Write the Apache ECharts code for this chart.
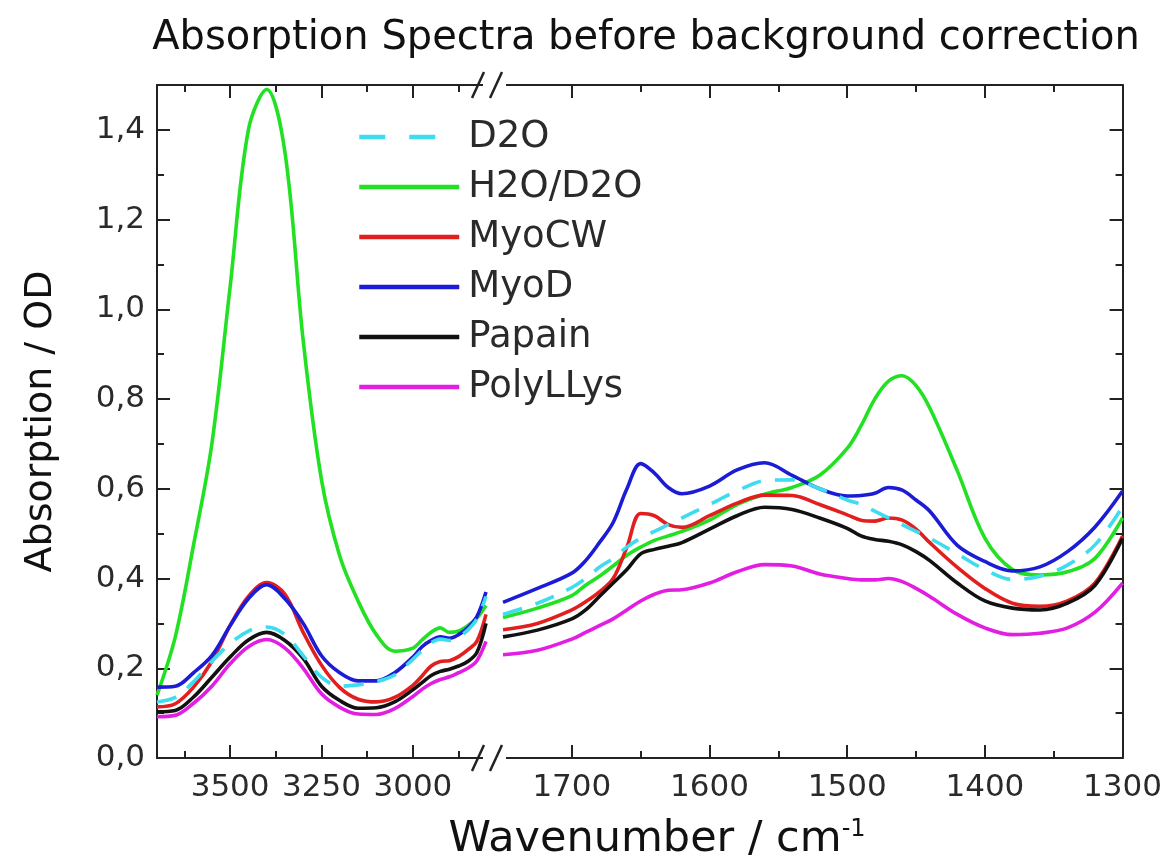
<!DOCTYPE html>
<html><head><meta charset="utf-8">
<script src="https://cdn.jsdelivr.net/npm/echarts@6/dist/echarts.min.js"></script>
<style>html,body{margin:0;padding:0;background:#fff}#c{width:1165px;height:865px}</style>
</head><body><div id="c"></div>
<script>
// Wavenumber grids (cm^-1)
const wnLeft = [3700,3650,3600,3550,3500,3450,3400,3350,3300,3250,3200,3150,3100,3050,3000,2975,2950,2925,2900,2875,2850,2825,2800];
const wnRight = [1750,1725,1700,1690,1680,1670,1660,1650,1640,1630,1620,1600,1580,1560,1540,1520,1500,1490,1480,1470,1460,1450,1440,1420,1400,1380,1360,1340,1320,1300];

const seriesNames = ['D2O','H2O/D2O','MyoCW','MyoD','Papain','PolyLLys'];

// Left segment values
const d2oL    = [0.125,0.135,0.170,0.215,0.255,0.283,0.292,0.275,0.228,0.180,0.160,0.163,0.170,0.185,0.220,0.240,0.257,0.265,0.262,0.270,0.285,0.310,0.360];
const h2oL    = [0.140,0.270,0.475,0.700,1.050,1.400,1.490,1.350,0.930,0.620,0.450,0.350,0.275,0.238,0.245,0.263,0.280,0.290,0.280,0.283,0.295,0.312,0.340];
const myocwL  = [0.114,0.121,0.158,0.215,0.295,0.360,0.391,0.365,0.280,0.207,0.157,0.131,0.125,0.135,0.162,0.183,0.205,0.215,0.217,0.226,0.241,0.260,0.320];
const myodL   = [0.158,0.160,0.190,0.228,0.295,0.355,0.386,0.355,0.300,0.228,0.190,0.172,0.172,0.190,0.225,0.248,0.262,0.270,0.267,0.275,0.290,0.315,0.370];
const papainL = [0.103,0.106,0.136,0.180,0.225,0.263,0.280,0.262,0.222,0.160,0.128,0.111,0.112,0.125,0.152,0.168,0.184,0.193,0.198,0.205,0.215,0.235,0.300];
const polyL   = [0.092,0.095,0.122,0.160,0.210,0.248,0.264,0.245,0.200,0.143,0.113,0.098,0.097,0.110,0.137,0.153,0.166,0.175,0.181,0.190,0.200,0.217,0.260];

// Right segment values
const d2oR    = [0.320,0.345,0.380,0.400,0.425,0.445,0.470,0.490,0.505,0.520,0.535,0.565,0.595,0.618,0.620,0.600,0.575,0.565,0.550,0.535,0.520,0.505,0.490,0.455,0.420,0.398,0.405,0.430,0.475,0.560];
const h2oR    = [0.313,0.334,0.362,0.385,0.405,0.428,0.452,0.470,0.485,0.495,0.505,0.530,0.565,0.588,0.603,0.630,0.690,0.740,0.800,0.840,0.852,0.830,0.780,0.640,0.490,0.420,0.408,0.415,0.445,0.535];
const myocwR  = [0.286,0.300,0.330,0.348,0.370,0.400,0.470,0.545,0.540,0.520,0.514,0.540,0.568,0.586,0.585,0.565,0.542,0.530,0.528,0.535,0.530,0.510,0.480,0.425,0.378,0.345,0.338,0.350,0.390,0.495];
const myodR   = [0.347,0.378,0.412,0.440,0.480,0.525,0.600,0.656,0.635,0.603,0.589,0.606,0.642,0.658,0.630,0.600,0.584,0.585,0.590,0.603,0.597,0.575,0.550,0.474,0.438,0.417,0.426,0.460,0.515,0.595];
const papainR = [0.270,0.285,0.310,0.330,0.360,0.390,0.420,0.455,0.465,0.472,0.480,0.510,0.540,0.559,0.554,0.535,0.512,0.495,0.487,0.483,0.475,0.460,0.440,0.390,0.350,0.334,0.330,0.345,0.385,0.490];
const polyR   = [0.230,0.240,0.265,0.280,0.295,0.310,0.330,0.350,0.365,0.374,0.375,0.390,0.415,0.431,0.428,0.410,0.400,0.397,0.397,0.400,0.393,0.378,0.360,0.320,0.290,0.275,0.278,0.290,0.325,0.390];

// Tick values
const leftMajor = [3500,3250,3000];
const leftMinor = [3625,3375,3125,2875];
const rightMajor = [1700,1600,1500,1400,1300];
const rightMinor = [1650,1550,1450,1350];
const yMajor = [0,0.2,0.4,0.6,0.8,1.0,1.2,1.4];
const yMinor = [0.1,0.3,0.5,0.7,0.9,1.1,1.3];

const leftVals = [d2oL,h2oL,myocwL,myodL,papainL,polyL];
const rightVals = [d2oR,h2oR,myocwR,myodR,papainR,polyR];
const colors = ['#3fdcef','#22e022','#e21f1f','#1c1cd6','#111111','#e21ee2'];

const FONT = 'DejaVu Sans, sans-serif';
const AX = '#222';
const TXT = '#2a2a2a';
const G0 = {left:157, top:85, width:329, height:673};
const G1 = {left:503, top:85, width:620, height:673};

function xAx(grid, min, max, pos, vals, len, showLine, labels) {
  return {
    type:'value', gridIndex:grid, min:min, max:max, inverse:true, position:pos,
    axisLine:{show:showLine, onZero:false, lineStyle:{color:AX, width:2}},
    axisTick:{show:true, inside:true, length:len, customValues:vals, lineStyle:{color:AX, width:2}},
    axisLabel: labels ? {show:true, customValues:vals, fontSize:31, color:TXT, fontFamily:FONT, margin:14,
      formatter: v => String(v)} : {show:false},
    splitLine:{show:false}
  };
}
function yAx(grid, pos, vals, len, showLine, labels, extra) {
  return Object.assign({
    type:'value', gridIndex:grid, min:0, max:1.5, position:pos,
    axisLine:{show:showLine, onZero:false, lineStyle:{color:AX, width:2}},
    axisTick:{show:true, inside:true, length:len, customValues:vals, lineStyle:{color:AX, width:2}},
    axisLabel: labels ? {show:true, customValues:vals, fontSize:31, color:TXT, fontFamily:FONT, margin:12,
      formatter: v => v.toFixed(1).replace('.', ',')} : {show:false},
    splitLine:{show:false}
  }, extra || {});
}

const series = [];
seriesNames.forEach((name, k) => {
  const ls = {color:colors[k], width:3.6, type: k === 0 ? [20,14] : 'solid'};
  series.push({name, type:'line', xAxisIndex:0, yAxisIndex:0, symbol:'none', smooth:0.35,
    lineStyle:ls, itemStyle:{color:colors[k]}, z: k===0 ? 3 : 2,
    data: wnLeft.map((x,i)=>[x, leftVals[k][i]])});
  series.push({name, type:'line', xAxisIndex:4, yAxisIndex:2, symbol:'none', smooth:0.35,
    lineStyle:ls, itemStyle:{color:colors[k]}, z: k===0 ? 3 : 2,
    data: wnRight.map((x,i)=>[x, rightVals[k][i]])});
});

// axis-break marks "//"
function breakMark(y) {
  const xa = G0.left + G0.width - 8;
  const xb = xa + 18;
  return [
    {type:'rect', shape:{x:G0.left+G0.width-3, y:y-3, width:G1.left-G0.left-G0.width+6, height:6}, style:{fill:'#fff'}, z:100},
    {type:'line', shape:{x1:xa-6, y1:y+13, x2:xa+6, y2:y-13}, style:{stroke:AX, lineWidth:2.5}, z:101},
    {type:'line', shape:{x1:xb-6, y1:y+13, x2:xb+6, y2:y-13}, style:{stroke:AX, lineWidth:2.5}, z:101}
  ];
}

const legendData = seriesNames.map((n,k) => ({
  name:n,
  itemStyle:{opacity:0, borderWidth:0},
  lineStyle:{color:colors[k], width:4.5, type: k===0 ? [26,24] : 'solid'}
}));

const chart = echarts.init(document.getElementById('c'), null, {renderer:'canvas'});
chart.setOption({
  animation:false,
  backgroundColor:'#fff',
  textStyle:{fontFamily:FONT},
  title:[
    {text:'Absorption Spectra before background correction', left:641, textAlign:'center', top:14,
     textStyle:{fontSize:40, fontWeight:'normal', color:'#111', fontFamily:FONT}},
    {text:'Wavenumber / cm{sup|-1}', left:652, textAlign:'center', top:813,
     textStyle:{fontSize:43, fontWeight:'normal', color:'#111', fontFamily:FONT,
       rich:{sup:{fontSize:24, verticalAlign:'top', color:'#111', fontFamily:FONT}}}}
  ],
  legend:{
    orient:'vertical', left:357, top:118, padding:0, itemWidth:100, itemHeight:14, itemGap:12,
    data:legendData, textStyle:{fontSize:37, color:TXT, fontFamily:FONT, lineHeight:38, padding:[0,0,0,4]},
    selectedMode:false
  },
  grid:[G0, G1],
  xAxis:[
    xAx(0, 2800, 3700, 'bottom', leftMajor, 13, true, true),
    xAx(0, 2800, 3700, 'bottom', leftMinor, 7, false, false),
    xAx(0, 2800, 3700, 'top', leftMajor, 13, true, false),
    xAx(0, 2800, 3700, 'top', leftMinor, 7, false, false),
    xAx(1, 1300, 1750, 'bottom', rightMajor, 13, true, true),
    xAx(1, 1300, 1750, 'bottom', rightMinor, 7, false, false),
    xAx(1, 1300, 1750, 'top', rightMajor, 13, true, false),
    xAx(1, 1300, 1750, 'top', rightMinor, 7, false, false)
  ],
  yAxis:[
    yAx(0, 'left', yMajor, 13, true, true, {name:'Absorption / OD', nameLocation:'middle', nameGap:97, nameRotate:90,
      nameTextStyle:{fontSize:38, color:'#111', fontFamily:FONT}}),
    yAx(0, 'left', yMinor, 7, false, false),
    yAx(1, 'right', yMajor, 13, true, false),
    yAx(1, 'right', yMinor, 7, false, false)
  ],
  graphic:[].concat(breakMark(G0.top), breakMark(G0.top + G0.height)),
  series
});
</script></body></html>
